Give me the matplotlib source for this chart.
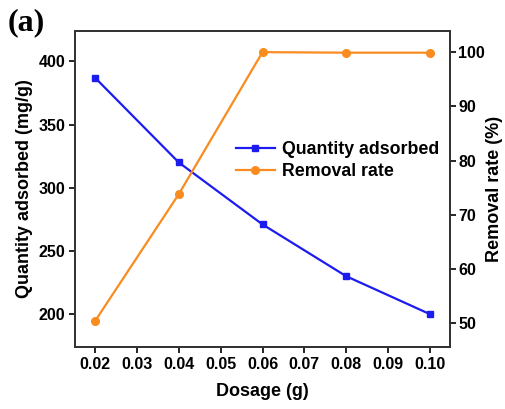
import matplotlib
matplotlib.use("Agg")
import matplotlib.pyplot as plt

plt.rcParams['font.family'] = ['Liberation Sans', 'DejaVu Sans']
plt.rcParams['font.weight'] = 'bold'

dosage = [0.02, 0.04, 0.06, 0.08, 0.10]
quantity = [387, 320, 271, 230, 200]
removal = [50.4, 73.8, 100.0, 99.9, 99.9]
x_ticks = [0.02, 0.03, 0.04, 0.05, 0.06, 0.07, 0.08, 0.09, 0.10]

BLUE = '#1c1cf0'
ORANGE = '#f98c1f'

fig = plt.figure(figsize=(5.06, 4.09), dpi=100)
ax = fig.add_axes([75 / 506, 1 - 347 / 409, 375 / 506, 316 / 409])
ax2 = ax.twinx()

l1, = ax.plot(dosage, quantity, color=BLUE, marker='s', markersize=5, lw=1.6,
              label='Quantity adsorbed')
l2, = ax2.plot(dosage, removal, color=ORANGE, marker='o', markersize=5.5, lw=1.6,
               label='Removal rate')

ax.set_xlim(0.0152, 0.1048)
ax.set_ylim(174, 424)
ax2.set_ylim(45.6, 103.9)
ax.set_xticks(x_ticks)
ax.set_xticklabels([f"{x:.2f}" for x in x_ticks])
ax.set_yticks([200, 250, 300, 350, 400])
ax2.set_yticks([50, 60, 70, 80, 90, 100])

for a in (ax, ax2):
    for s in a.spines.values():
        s.set_linewidth(1.3)
        s.set_color('#333333')
ax.tick_params(axis='both', direction='out', length=4, width=1.2, labelsize=11.5, pad=3)
ax2.tick_params(axis='y', direction='out', length=4, width=1.2, labelsize=11.5, pad=2)

ax.set_xlabel('Dosage (g)', fontsize=13, fontweight='bold', labelpad=8)
ax.set_ylabel('Quantity adsorbed (mg/g)', fontsize=13, fontweight='bold', labelpad=4)
ax2.set_ylabel('Removal rate (%)', fontsize=13, fontweight='bold', labelpad=1)

ax.legend(handles=[l1, l2], loc='upper left', bbox_to_anchor=(0.405, 0.68),
          frameon=False, fontsize=12.8, handlelength=2.2, handletextpad=0.4,
          labelspacing=0.3, borderpad=0)

fig.text(0.015, 0.925, '(a)', fontsize=23, fontweight='bold', family='Liberation Serif')

fig.savefig('out.png', dpi=100)
